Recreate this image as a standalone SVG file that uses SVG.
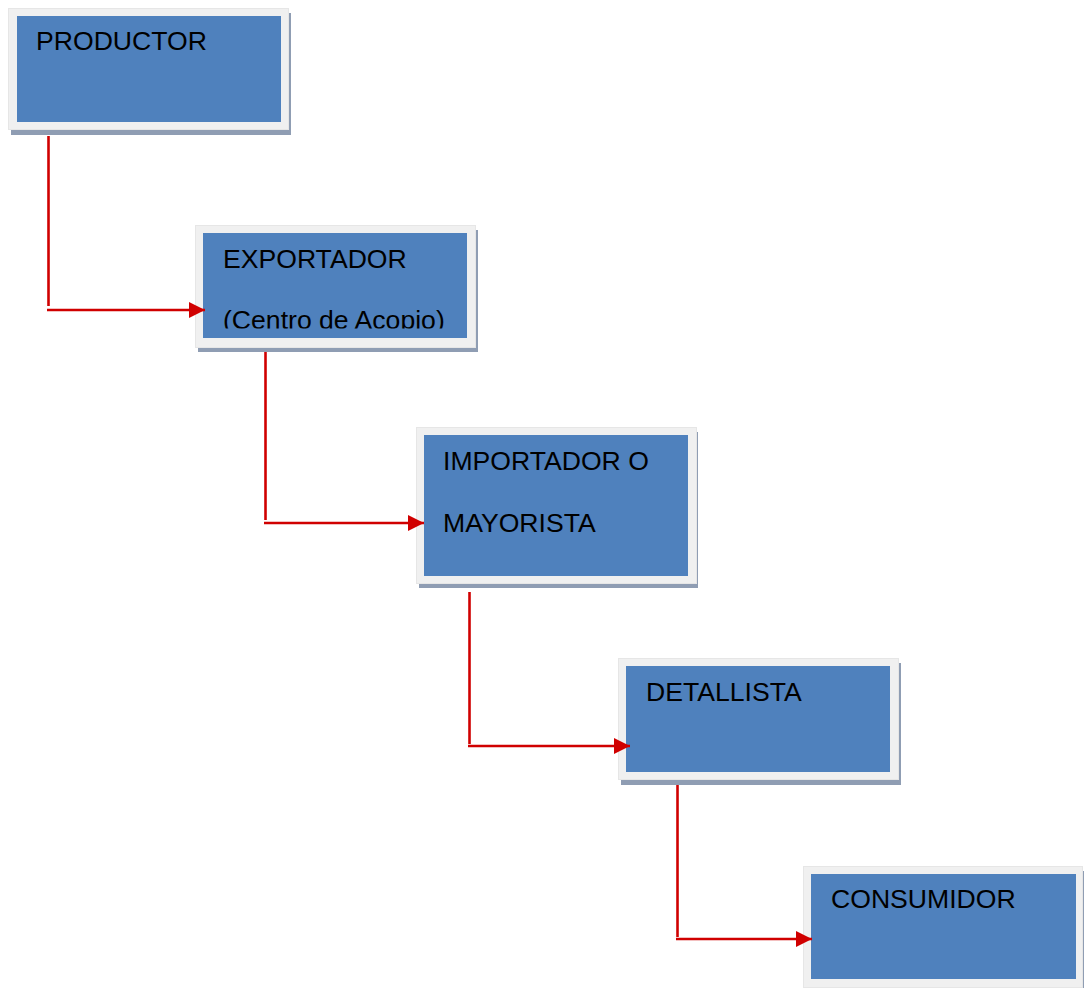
<svg xmlns="http://www.w3.org/2000/svg" width="1084" height="988" viewBox="0 0 1084 988">
  <style>
    .shadow { fill: #8f9db3; }
    .frame { fill: #f0f0f0; stroke: #e6e6e6; stroke-width: 1; }
    .box { fill: #4f81bd; }
    .label { font-family: "Liberation Sans", Arial, sans-serif; font-size: 26.6px; fill: #000000; }
    .wire { fill: none; stroke: #d00000; stroke-width: 2.6; }
  </style>
  <defs>
    <marker id="arrow" markerUnits="userSpaceOnUse" markerWidth="18" markerHeight="16" refX="16" refY="8" orient="auto">
      <path d="M0,0 L16,8 L0,16 Z" fill="#d00000"/>
    </marker>
    <clipPath id="clip-exportador">
      <rect x="203" y="233" width="264" height="95.5"/>
    </clipPath>
  </defs>
  <rect width="1084" height="988" fill="#ffffff"/>

  <g id="productor">
    <rect class="shadow" x="11" y="13" width="280" height="122"/>
    <rect class="frame" x="8.5" y="8.5" width="280" height="121"/>
    <rect class="box" x="17" y="16" width="264" height="106"/>
    <text class="label" x="36" y="50">PRODUCTOR</text>
  </g>

  <g id="exportador">
    <rect class="shadow" x="198" y="230" width="280" height="122"/>
    <rect class="frame" x="195.5" y="225.5" width="280" height="122"/>
    <rect class="box" x="203" y="233" width="264" height="105"/>
    <g clip-path="url(#clip-exportador)">
      <text class="label" x="223" y="268">EXPORTADOR</text>
      <text class="label" x="223" y="329">(Centro de Acopio)</text>
    </g>
  </g>

  <g id="importador">
    <rect class="shadow" x="419" y="432" width="279" height="156"/>
    <rect class="frame" x="416.5" y="427.5" width="280" height="156"/>
    <rect class="box" x="424" y="435" width="264" height="141"/>
    <text class="label" x="443" y="470">IMPORTADOR O</text>
    <text class="label" x="443" y="532">MAYORISTA</text>
  </g>

  <g id="detallista">
    <rect class="shadow" x="621" y="663" width="280" height="122"/>
    <rect class="frame" x="618.5" y="658.5" width="280" height="121"/>
    <rect class="box" x="626" y="666" width="264" height="106"/>
    <text class="label" x="646" y="701">DETALLISTA</text>
  </g>

  <g id="consumidor">
    <rect class="shadow" x="806" y="871" width="278" height="117"/>
    <rect class="frame" x="803.5" y="866.5" width="279" height="121"/>
    <rect class="box" x="811" y="874" width="265" height="105"/>
    <text class="label" x="831" y="908">CONSUMIDOR</text>
  </g>

  <g id="connectors">
    <line class="wire" x1="48.5" y1="136" x2="48.5" y2="306"/>
    <line class="wire" x1="47" y1="310" x2="205" y2="310" marker-end="url(#arrow)"/>

    <line class="wire" x1="265.5" y1="352" x2="265.5" y2="520"/>
    <line class="wire" x1="264" y1="523" x2="424" y2="523" marker-end="url(#arrow)"/>

    <line class="wire" x1="469.5" y1="592" x2="469.5" y2="744"/>
    <line class="wire" x1="468" y1="746" x2="630" y2="746" marker-end="url(#arrow)"/>

    <line class="wire" x1="677.5" y1="785" x2="677.5" y2="937"/>
    <line class="wire" x1="676" y1="939" x2="812" y2="939" marker-end="url(#arrow)"/>
  </g>
</svg>
